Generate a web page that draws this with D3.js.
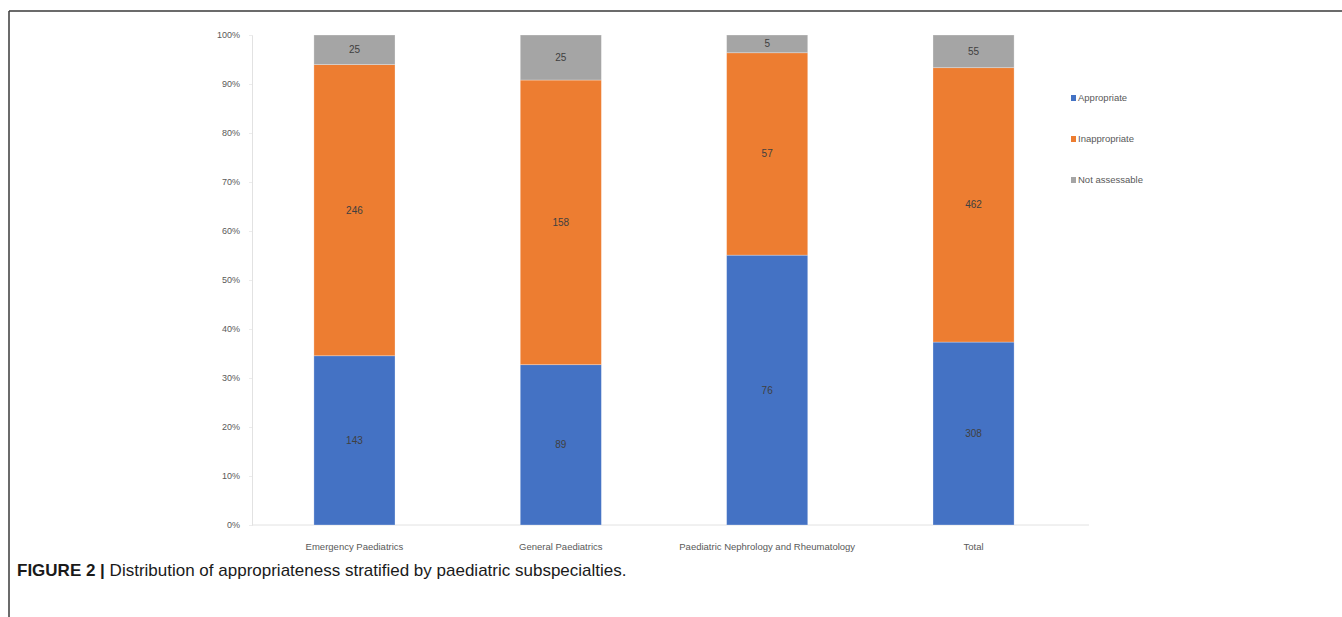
<!DOCTYPE html>
<html>
<head>
<meta charset="utf-8">
<script src="https://cdn.jsdelivr.net/npm/d3@7"></script>
<style>
body { margin: 0; background: #fff; }
svg { display: block; }
.chart text { font-family: "Liberation Sans Narrow", "Liberation Sans", Arial, sans-serif; }
</style>
</head>
<body>
<svg width="1342" height="617"></svg>
<script>
var svg = d3.select("svg");

// data
var categories = ["Emergency Paediatrics", "General Paediatrics", "Paediatric Nephrology and Rheumatology", "Total"];
var seriesNames = ["Appropriate", "Inappropriate", "Not assessable"];
var appropriate = [143, 89, 76, 308];
var inappropriate = [246, 158, 57, 462];
var notAssessable = [25, 25, 5, 55];
var yTicks = [0, 0.1, 0.2, 0.3, 0.4, 0.5, 0.6, 0.7, 0.8, 0.9, 1];
var colors = ["#4472C4", "#ED7D31", "#A5A5A5"];

var rows = categories.map(function(c, i) {
    var tot = appropriate[i] + inappropriate[i] + notAssessable[i];
    return {cat: c, vals: [appropriate[i], inappropriate[i], notAssessable[i]], total: tot};
});

// frame lines of the page
svg.append("line").attr("x1", 9).attr("x2", 1342).attr("y1", 11).attr("y2", 11)
    .attr("stroke", "#3a3a3a").attr("stroke-width", 1.5);
svg.append("line").attr("x1", 9).attr("x2", 9).attr("y1", 11).attr("y2", 617)
    .attr("stroke", "#3a3a3a").attr("stroke-width", 1.5);

var g = svg.append("g").attr("class", "chart");

var x = d3.scaleBand().domain(categories).range([252, 1076]).paddingInner(0.607).paddingOuter(0.3);
var y = d3.scaleLinear().domain([0, 1]).range([525, 35]);

// y axis
var yAxis = g.append("g").attr("transform", "translate(252,0)")
    .call(d3.axisLeft(y).tickValues(yTicks).tickFormat(d3.format(".0%")).tickSize(3).tickPadding(9));
yAxis.select(".domain").attr("stroke", "#e2e2e2");
yAxis.selectAll(".tick line").attr("stroke", "#ececec");
yAxis.selectAll(".tick text").attr("fill", "#595959").style("font-size", "9px");

// baseline
g.append("line").attr("x1", 252).attr("x2", 1089).attr("y1", y(0)).attr("y2", y(0))
    .attr("stroke", "#e2e2e2");

// stacked segments
rows.forEach(function(r) {
    var acc = 0;
    r.vals.forEach(function(v, k) {
        var y0 = acc / r.total, y1 = (acc + v) / r.total;
        acc += v;
        g.append("rect")
            .attr("x", x(r.cat)).attr("width", x.bandwidth())
            .attr("y", y(y1)).attr("height", y(y0) - y(y1))
            .attr("fill", colors[k])
            .attr("stroke", "#fff").attr("stroke-opacity", 0.35).attr("stroke-width", 0.8);
        g.append("text")
            .attr("x", x(r.cat) + x.bandwidth() / 2)
            .attr("y", y((y0 + y1) / 2) + 3.5)
            .attr("text-anchor", "middle")
            .attr("fill", "#404040")
            .style("font-size", "10px")
            .text(v);
    });
});

// x labels
var xAxis = g.append("g").attr("transform", "translate(0," + y(0) + ")")
    .call(d3.axisBottom(x).tickSize(0).tickPadding(18));
xAxis.select(".domain").remove();
xAxis.selectAll(".tick text").attr("fill", "#595959").style("font-size", "9.5px");

// legend
var legend = g.selectAll(".leg").data(seriesNames).enter().append("g")
    .attr("class", "leg")
    .attr("transform", function(d, i) { return "translate(1071," + (99 + i * 41) + ")"; });
legend.append("rect").attr("x", 0).attr("y", -4).attr("width", 5).attr("height", 6)
    .attr("fill", function(d, i) { return colors[i]; });
legend.append("text").attr("x", 7).attr("y", 2)
    .attr("fill", "#595959").style("font-size", "9.5px")
    .text(function(d) { return d; });

// caption
var cap = svg.append("text").attr("x", 17).attr("y", 576)
    .style("font-family", "'Liberation Sans', Arial, sans-serif").style("font-size", "17px")
    .attr("fill", "#1a1a1a");
cap.append("tspan").style("font-weight", "bold").text("FIGURE 2 | ");
cap.append("tspan").text("Distribution of appropriateness stratified by paediatric subspecialties.");
</script>
</body>
</html>
